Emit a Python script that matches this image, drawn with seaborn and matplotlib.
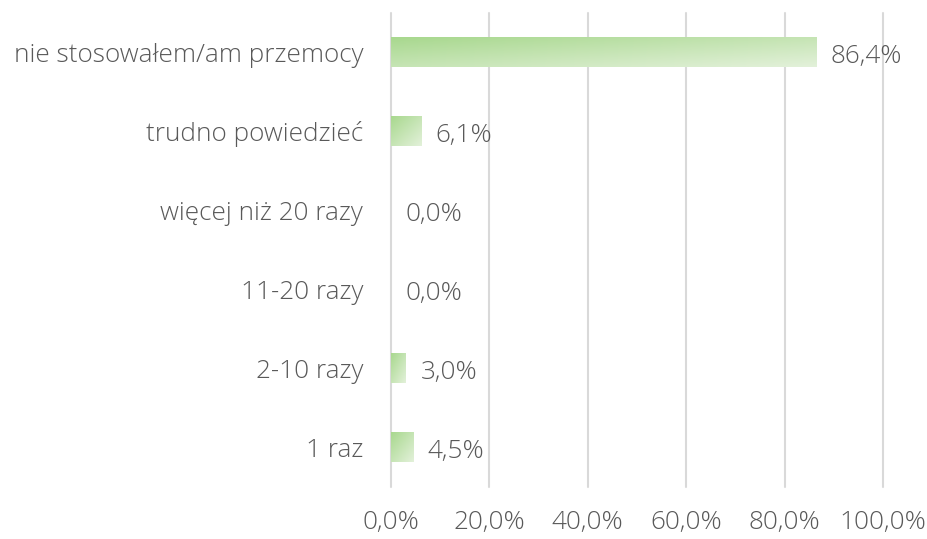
import matplotlib.pyplot as plt
import numpy as np
import pandas as pd
import seaborn as sns
from matplotlib.colors import LinearSegmentedColormap

categories = ['nie stosowałem/am przemocy', 'trudno powiedzieć', 'więcej niż 20 razy',
              '11-20 razy', '2-10 razy', '1 raz']
values = [86.4, 6.1, 0.0, 0.0, 3.0, 4.5]
ticks = [0, 20, 40, 60, 80, 100]

df = pd.DataFrame({'category': categories, 'value': values})

sns.set_style('white')
plt.rcParams['font.family'] = ['Open Sans', 'DejaVu Sans']
text_color = '#595959'
fs = 18.8

fig = plt.figure(figsize=(9.27, 5.39), dpi=100)
ax = fig.add_axes([0.4218, 0.0974, 0.5307, 0.8794])

sns.barplot(data=df, y='category', x='value', orient='h', width=0.37,
            color='#c5e5b3', ax=ax, zorder=2, linewidth=0)

# gradient fill clipped to each bar
cmap = LinearSegmentedColormap.from_list('g', ['#a8d88e', '#e3f1da'])
grad = np.add.outer(np.linspace(0, 1, 50), np.linspace(0, 1, 200)) / 2
for bar in ax.patches:
    w = bar.get_width()
    if w <= 0:
        bar.set_visible(False)
        continue
    x0, y0 = bar.get_x(), bar.get_y()
    h = bar.get_height()
    im = ax.imshow(grad, cmap=cmap, extent=[x0, x0 + w, y0 + h, y0],
                   aspect='auto', zorder=3, interpolation='bilinear')
    im.set_clip_path(bar)
    bar.set_facecolor('none')

for i, v in enumerate(values):
    ax.text(v + 3.0, i + 0.06, f'{v:.1f}%'.replace('.', ','), va='center', ha='left',
            fontsize=fs, color=text_color, fontweight='light')

ax.set_xlim(0, 100)
ax.set_ylim(5.5, -0.5)
ax.set_xticks(ticks)
ax.set_xticklabels([f'{t:.1f}%'.replace('.', ',') for t in ticks])
ax.grid(axis='x', color='#d9d9d9', linewidth=1.5, zorder=0)
ax.set_axisbelow(True)
for line in ax.get_xgridlines():
    line.set_clip_on(False)
for s in ax.spines.values():
    s.set_visible(False)
ax.set_xlabel('')
ax.set_ylabel('')
ax.tick_params(axis='both', length=0, labelsize=fs, labelcolor=text_color)
ax.tick_params(axis='x', pad=17)
ax.tick_params(axis='y', pad=20)
for lbl in ax.get_xticklabels() + ax.get_yticklabels():
    lbl.set_fontweight('light')

fig.savefig('out.png', dpi=100)
